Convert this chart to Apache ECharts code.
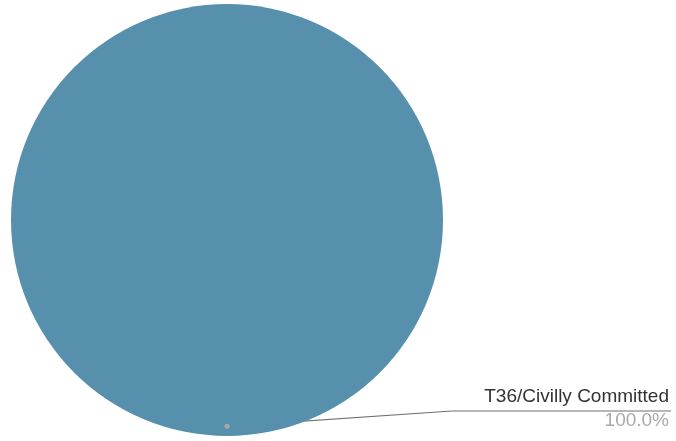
<!DOCTYPE html>
<html><head><meta charset="utf-8">
<script src="https://cdn.jsdelivr.net/npm/echarts@6/dist/echarts.min.js"></script>
<style>html,body{margin:0;padding:0;background:#fff}#c{width:676px;height:441px}</style>
</head><body><div id="c"></div>
<script>
const categories = ['T36/Civilly Committed'];
const values = [100];
const percentLabels = ['100.0%'];

const CX = 227, CY = 220, R = 216;
const chart = echarts.init(document.getElementById('c'), null, {renderer: 'canvas'});
const W = 676;
const dotY = CY + R * 0.955;
chart.setOption({
  animation: false,
  textStyle: {fontFamily: 'Liberation Sans, Arial, sans-serif'},
  graphic: [{type: 'circle', shape: {cx: CX, cy: dotY, r: 2.5}, style: {fill: '#a8a8a8'}, z: 100}],
  series: [{
    type: 'pie',
    center: [CX, CY],
    radius: [0, R],
    startAngle: 90,
    itemStyle: {color: '#5690ad'},
    emphasis: {disabled: true},
    data: categories.map((c, i) => ({name: c, value: values[i]})),
    label: {
      show: true,
      overflow: 'none',
      width: 300,
      formatter: p => '{n|' + p.name + '}\n{p|' + percentLabels[p.dataIndex] + '}',
      rich: {
        n: {fontSize: 19, color: '#333', lineHeight: 24, fontFamily: 'Liberation Sans', align: 'right'},
        p: {fontSize: 19, color: '#aaa', lineHeight: 24, fontFamily: 'Liberation Sans', align: 'right'}
      }
    },
    labelLine: {show: true, lineStyle: {color: '#707070', width: 1.2}},
    labelLayout: function (params) {
      return {
        x: W - 7, y: 409, align: 'right', verticalAlign: 'middle',
        labelLinePoints: [[CX, dotY], [452, 411], [W - 5, 411]]
      };
    }
  }]
});
</script></body></html>
